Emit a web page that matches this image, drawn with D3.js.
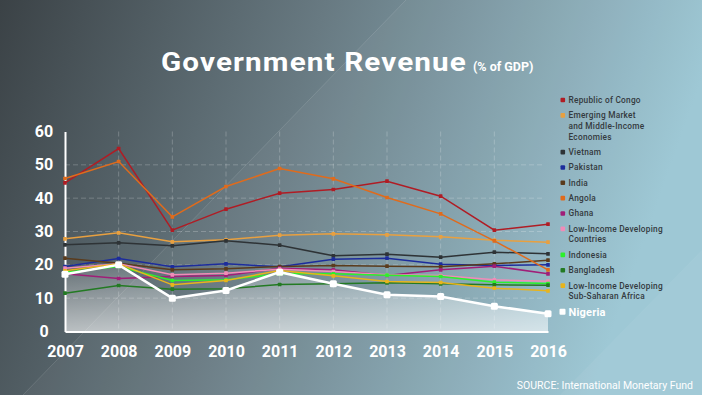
<!DOCTYPE html>
<html>
<head>
<meta charset="utf-8">
<script src="https://cdn.jsdelivr.net/npm/d3@7"></script>
<style>
  body { margin: 0; padding: 0; overflow: hidden; }
  svg { display: block; font-family: Roboto, "DejaVu Sans", sans-serif; }
</style>
</head>
<body>
<script>
const width = 702;
const height = 395;

// data
const years = [2007, 2008, 2009, 2010, 2011, 2012, 2013, 2014, 2015, 2016];
const yTicks = [0, 10, 20, 30, 40, 50, 60];

const congo      = [44.6, 54.9, 30.4, 36.7, 41.5, 42.6, 45.1, 40.6, 30.4, 32.2];
const emerging   = [27.8, 29.6, 26.9, 27.5, 28.9, 29.3, 29.0, 28.4, 27.4, 26.8];
const vietnam    = [26.0, 26.6, 25.7, 27.2, 25.9, 22.7, 23.2, 22.3, 23.8, 23.3];
const pakistan   = [19.5, 21.9, 19.4, 20.3, 19.4, 21.7, 22.0, 20.2, 19.8, 20.0];
const india      = [22.0, 20.5, 18.5, 18.8, 19.5, 19.8, 19.6, 19.4, 20.3, 21.4];
const angola     = [45.9, 51.0, 34.4, 43.5, 48.9, 45.8, 40.2, 35.3, 27.2, 18.5];
const ghana      = [17.3, 15.9, 16.5, 16.8, 19.0, 18.5, 16.8, 18.5, 19.6, 17.3];
const lidc       = [19.0, 20.3, 17.0, 17.5, 18.7, 18.0, 17.0, 16.8, 15.5, 15.1];
const indonesia  = [17.8, 19.5, 15.3, 15.5, 17.3, 17.3, 16.9, 16.5, 14.8, 14.4];
const bangladesh = [11.5, 13.8, 12.7, 12.8, 14.1, 14.3, 14.6, 14.3, 14.0, 13.9];
const lidcSSA    = [18.2, 20.3, 14.0, 15.3, 18.3, 16.7, 15.0, 14.7, 13.0, 12.2];
const nigeria    = [17.2, 20.0, 10.0, 12.3, 17.8, 14.3, 11.0, 10.5, 7.6, 5.3];

const series = [
  { name: ["Republic of Congo"], values: congo, color: "#b01c24" },
  { name: ["Emerging Market", "and Middle-Income", "Economies"], values: emerging, color: "#e8a040" },
  { name: ["Vietnam"], values: vietnam, color: "#2e3336" },
  { name: ["Pakistan"], values: pakistan, color: "#1c2c9c" },
  { name: ["India"], values: india, color: "#5a3b1c" },
  { name: ["Angola"], values: angola, color: "#e06b1c" },
  { name: ["Ghana"], values: ghana, color: "#a01e78" },
  { name: ["Low-Income Developing", "Countries"], values: lidc, color: "#f08cb8" },
  { name: ["Indonesia"], values: indonesia, color: "#2cf02c" },
  { name: ["Bangladesh"], values: bangladesh, color: "#237a23" },
  { name: ["Low-Income Developing", "Sub-Saharan Africa"], values: lidcSSA, color: "#e8b41c" },
  { name: ["Nigeria"], values: nigeria, color: "#ffffff" }
];

const svg = d3.select("body")
  .append("svg")
  .attr("width", width)
  .attr("height", height);

const defs = svg.append("defs");

// background gradient
const bg = defs.append("linearGradient")
  .attr("id", "bg")
  .attr("x1", "0%").attr("y1", "0%")
  .attr("x2", "100%").attr("y2", "20%");
bg.append("stop").attr("offset", "0%").attr("stop-color", "#3b4246");
bg.append("stop").attr("offset", "45%").attr("stop-color", "#687a82");
bg.append("stop").attr("offset", "100%").attr("stop-color", "#9bc6d4");

const area = defs.append("linearGradient")
  .attr("id", "areaFill")
  .attr("gradientUnits", "userSpaceOnUse")
  .attr("x1", 0).attr("y1", 260)
  .attr("x2", 0).attr("y2", 332);
area.append("stop").attr("offset", "0%").attr("stop-color", "#ffffff").attr("stop-opacity", 0.08);
area.append("stop").attr("offset", "100%").attr("stop-color", "#ffffff").attr("stop-opacity", 0.6);

svg.append("rect")
  .attr("width", width)
  .attr("height", height)
  .style("fill", "url(#bg)");

// faint diagonal facets
svg.append("polygon")
  .attr("points", "406,0 702,0 702,395 23,395")
  .style("fill", "#ffffff")
  .style("opacity", 0.035);
svg.append("line")
  .attr("x1", 23).attr("y1", 395)
  .attr("x2", 406).attr("y2", 0)
  .style("stroke", "#ffffff")
  .style("stroke-opacity", 0.12)
  .style("stroke-width", 1);
svg.append("polygon")
  .attr("points", "702,250 702,395 560,395")
  .style("fill", "#ffffff")
  .style("opacity", 0.05);

// title
svg.append("text")
  .attr("x", 161)
  .attr("y", 70.5)
  .attr("textLength", 306)
  .attr("lengthAdjust", "spacingAndGlyphs")
  .style("fill", "#ffffff")
  .style("font-weight", 700)
  .style("font-size", "26px")
  .style("letter-spacing", "1px")
  .text("Government Revenue");
svg.append("text")
  .attr("x", 473)
  .attr("y", 70.5)
  .style("fill", "#ffffff")
  .style("font-weight", 700)
  .style("font-size", "12.5px")
  .text("(% of GDP)");

const x = d3.scalePoint().domain(years).range([65, 548]);
const y = d3.scaleLinear().domain([0, 60]).range([331.5, 131.5]);

// gridlines
svg.append("g")
  .selectAll("line")
  .data(yTicks.filter(d => d > 0 && d < 60))
  .join("line")
  .attr("x1", x(2007)).attr("x2", 543)
  .attr("y1", d => y(d)).attr("y2", d => y(d))
  .style("stroke", "#ffffff")
  .style("stroke-opacity", 0.22)
  .style("stroke-dasharray", "5,3");

svg.append("g")
  .selectAll("line")
  .data(years.slice(1, -1))
  .join("line")
  .attr("x1", d => x(d)).attr("x2", d => x(d))
  .attr("y1", y(60)).attr("y2", y(0))
  .style("stroke", "#ffffff")
  .style("stroke-opacity", 0.22)
  .style("stroke-dasharray", "5,3");

// area under Nigeria
svg.append("path")
  .datum(nigeria)
  .attr("d", d3.area()
    .x((d, i) => x(years[i]))
    .y0(y(0))
    .y1(d => y(d)))
  .style("fill", "url(#areaFill)");

// axes
const yAxis = svg.append("g")
  .attr("transform", `translate(${x(2007)},0)`)
  .call(d3.axisLeft(y).tickValues(yTicks).tickSize(0).tickPadding(0));
yAxis.select(".domain").style("stroke", "#ffffff").style("stroke-width", 2);
yAxis.selectAll("text")
  .attr("x", -21)
  .attr("text-anchor", "middle")
  .style("fill", "#ffffff")
  .style("font-size", "16px")
  .style("font-weight", 700)
  .style("font-family", "Roboto, sans-serif");

const xAxis = svg.append("g")
  .attr("transform", `translate(0,${y(0)})`)
  .call(d3.axisBottom(x).tickSize(0).tickPadding(14).tickFormat(d3.format("d")));
xAxis.select(".domain").style("stroke", "#ffffff").style("stroke-width", 2);
xAxis.selectAll("text")
  .style("fill", "#ffffff")
  .style("font-size", "16px")
  .style("font-weight", 700)
  .style("font-family", "Roboto, sans-serif");

// lines
const line = d3.line()
  .x((d, i) => x(years[i]))
  .y(d => y(d));

const lineG = svg.append("g")
  .selectAll("g")
  .data(series)
  .join("g");

lineG.append("path")
  .attr("d", d => line(d.values))
  .style("fill", "none")
  .style("stroke", d => d.color)
  .style("stroke-width", d => d.name[0] === "Nigeria" ? 2.5 : 1.5);

lineG.selectAll("rect")
  .data(d => d.values.map((v, i) => ({ v, i, s: d })))
  .join("rect")
  .attr("x", d => x(years[d.i]) - (d.s.name[0] === "Nigeria" ? 3.5 : 1.8))
  .attr("y", d => y(d.v) - (d.s.name[0] === "Nigeria" ? 3.5 : 1.8))
  .attr("width", d => d.s.name[0] === "Nigeria" ? 7 : 3.6)
  .attr("height", d => d.s.name[0] === "Nigeria" ? 7 : 3.6)
  .attr("rx", d => d.s.name[0] === "Nigeria" ? 1.5 : 0.5)
  .style("fill", d => d.s.color);

// legend
const legend = svg.append("g");
let ly = 100;
series.forEach(s => {
  const isNig = s.name[0] === "Nigeria";
  const row = legend.append("g");
  row.append("rect")
    .attr("x", isNig ? 559.5 : 560.5)
    .attr("y", ly - (isNig ? 3 : 2.3))
    .attr("width", isNig ? 6 : 4.6)
    .attr("height", isNig ? 6 : 4.6)
    .attr("rx", 1)
    .style("fill", s.color);
  s.name.forEach((t, j) => {
    row.append("text")
      .attr("x", 568.5)
      .attr("y", ly + j * 10.7)
      .attr("dy", "0.35em")
      .style("fill", isNig ? "#ffffff" : "#343a3e")
      .style("font-size", isNig ? "11px" : "8.3px")
      .style("font-weight", isNig ? 700 : 500)
      .style("letter-spacing", isNig ? "0.2px" : "0.25px")
      .text(t);
  });
  ly += (s.name.length - 1) * 10.7 + 15.35;
});

// source
svg.append("text")
  .attr("x", 693)
  .attr("y", 385)
  .attr("dy", "0.35em")
  .attr("text-anchor", "end")
  .style("fill", "#ffffff")
  .style("font-size", "10.5px")
  .text("SOURCE: International Monetary Fund");
</script>
</body>
</html>
